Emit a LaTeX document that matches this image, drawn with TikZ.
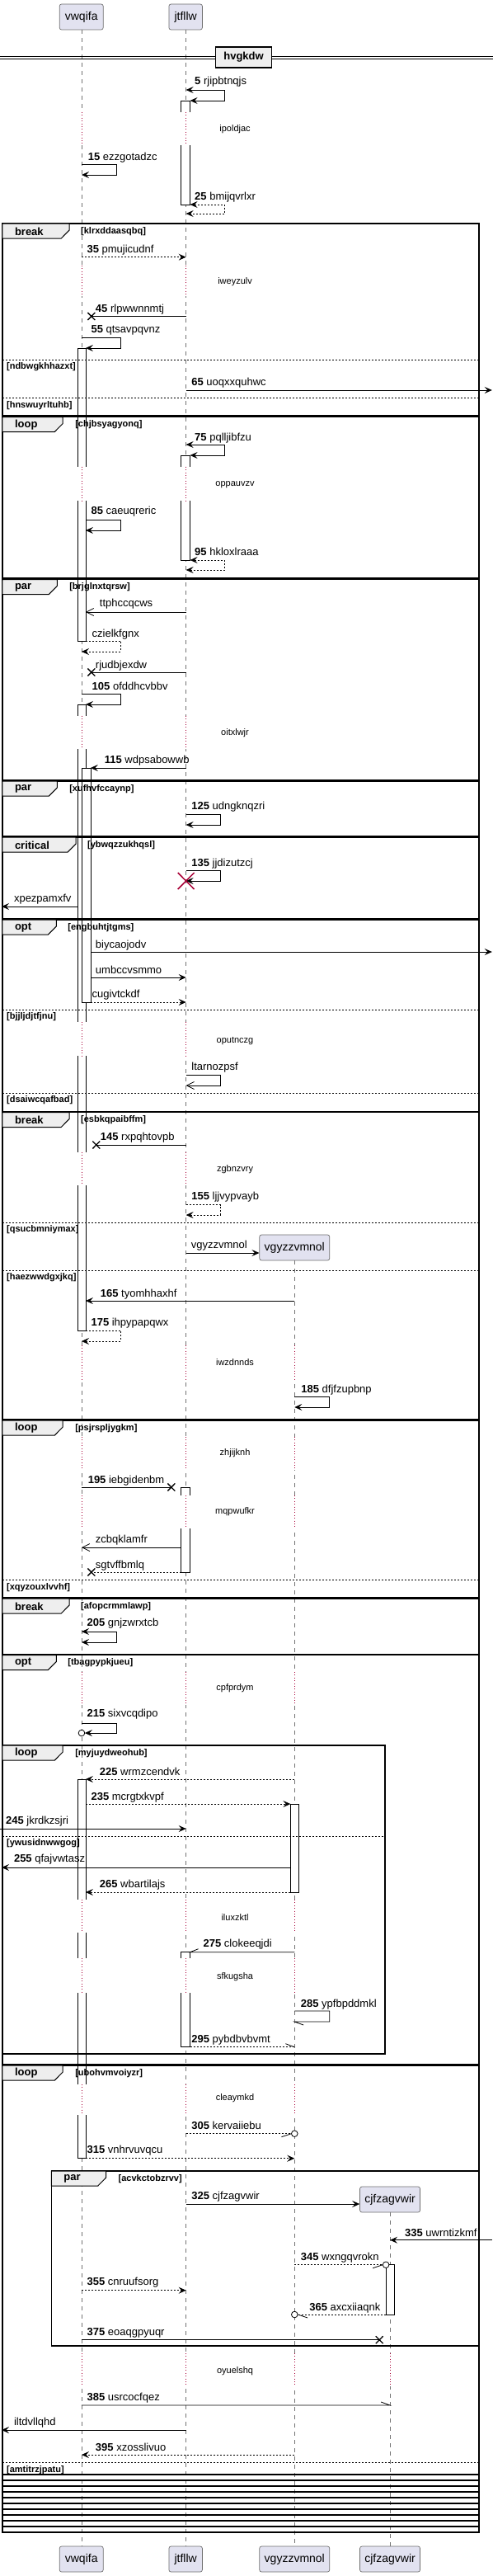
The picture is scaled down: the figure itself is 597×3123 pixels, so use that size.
\documentclass[tikz,border=0pt]{standalone}
\usepackage{fontspec}
\setmainfont{Liberation Sans}
\usetikzlibrary{arrows.meta}
\definecolor{pfill}{RGB}{226,226,240}
\definecolor{pborder}{RGB}{110,110,110}
\definecolor{dred}{RGB}{168,0,54}
\definecolor{tabfill}{RGB}{238,238,238}
\tikzset{
  part/.style={draw=pborder, fill=pfill, rounded corners=2.5pt, line width=0.7pt, minimum height=31pt, inner sep=0pt, font=\fontsize{14}{16}\selectfont},
  life/.style={draw=black!55, line width=0.6pt, dash pattern=on 5pt off 5pt},
  act/.style={draw=black, fill=white, line width=0.7pt},
  dline/.style={draw=dred, line width=0.8pt, dash pattern=on 0.8pt off 2.6pt},
  dtext/.style={font=\fontsize{11}{13}\selectfont, inner sep=0pt},
  frm/.style={draw=black, line width=1.5pt},
  tabs/.style={draw=black, fill=tabfill, line width=1pt},
  kw/.style={anchor=west, inner sep=0pt, font=\fontsize{13}{15}\selectfont\bfseries},
  cnd/.style={anchor=west, inner sep=0pt, font=\fontsize{11}{13}\selectfont\bfseries},
  divl/.style={draw=black, line width=0.8pt, dash pattern=on 2pt off 2pt},
  lbl/.style={anchor=west, inner sep=0pt, font=\fontsize{13}{15}\selectfont},
  m/.style={line width=0.8pt, ->},
  md/.style={m, dash pattern=on 2pt off 2pt},
  mb/.style={line width=0.8pt, <->},
  mdb/.style={mb, dash pattern=on 2pt off 2pt},
  mo/.style={line width=0.8pt, -{Straight Barb[length=9pt,width=9pt]}},
  mp/.style={line width=0.8pt},
  mdp/.style={mp, dash pattern=on 2pt off 2pt},
  circ/.style={draw=black, fill=white, line width=0.8pt},
  titlebox/.style={draw=black, fill=tabfill, line width=1.5pt, minimum width=68pt, minimum height=25pt, inner sep=0pt, font=\fontsize{13}{15}\selectfont\bfseries}
}
\newcommand\grp[8]{%
  \draw[frm] (#3,#1) rectangle (#4,#2);
  \draw[tabs] (#3,#1) -- (#5,#1) -- (#5,{#1+8}) -- ({#5-10},{#1+18}) -- (#3,{#1+18}) -- cycle;
  \node[kw] at ({#3+15},{#1+9.5}) {#6};
  \node[cnd] at (#7,{#1+9.5}) {#8};
}
\newcommand\dvd[4]{%
  \draw[divl] (#2,#1) -- (#3,#1);
  \node[cnd] at ({#2+5},{#1+9}) {#4};
}
\newcommand\dly[5]{%
  \foreach \lx in {#5} {
    \fill[white] ({\lx-8},#1) rectangle ({\lx+14},#2);
    \draw[dline] (\lx,#1) -- (\lx,#2);
  }
  \node[dtext] at (288,#3) {#4};
}
\newcommand\lostx[2]{%
  \draw[line width=1.3pt] ({#1-4.5},{#2-4.5}) -- ({#1+4.5},{#2+4.5}) ({#1-4.5},{#2+4.5}) -- ({#1+4.5},{#2-4.5});
}
\begin{document}
\begin{tikzpicture}[x=0.9897pt, y=-1pt, >={Stealth[length=9pt,width=8pt,inset=3.5pt]}]
\useasboundingbox (0pt,0pt) rectangle (597pt,-3123pt);

% lifelines
\draw[life] (100,36) -- (100,3087);
\draw[life] (228,36) -- (228,3087);
\draw[life] (361,1528) -- (361,3087);
\draw[life] (478,2682) -- (478,3087);

% participants
\node[part, minimum width=53pt] (pA) at (99.75,20.5) {vwqifa};
\node[part, minimum width=40.5pt] (pB) at (227.5,20.5) {jtfllw};
\node[part, minimum width=53pt] (pAb) at (99.75,3102.5) {vwqifa};
\node[part, minimum width=40.5pt] (pBb) at (227.5,3102.5) {jtfllw};
\node[part, minimum width=85pt] (pCb) at (361,3102.5) {vgyzzvmnol};
\node[part, minimum width=73pt] (pDb) at (478,3102.5) {cjfzagvwir};
\node[part, minimum width=85pt] (pC) at (361,1512.5) {vgyzzvmnol};
\node[part, minimum width=73pt] (pD) at (478,2666.5) {cjfzagvwir};

% activations
\draw[act] (222,122) rectangle (233,248);
\draw[act] (222,552) rectangle (233,679);
\draw[act] (222,1803) rectangle (233,1906);
\draw[act] (222,2366.7) rectangle (233,2481.7);
\draw[act] (95,422) rectangle (105,777);
\draw[act] (95,854) rectangle (105,1613);
\draw[act] (100,931) rectangle (111,1215);
\draw[act] (95,2157) rectangle (105,2616.7);
\draw[act] (356,2187) rectangle (366,2294);
\draw[act] (473,2745.7) rectangle (483,2806);

% delays
\dly{136}{176}{157}{ipoldjac}{100,228}
\dly{322}{359}{341.7}{iweyzulv}{100,228}
\dly{565.7}{607}{587.7}{oppauvzv}{100,228}
\dly{867.7}{908}{889}{oitxlwjr}{100,228}
\dly{1239}{1280}{1261.7}{oputnczg}{100,228}
\dly{1396.7}{1436.7}{1417.7}{zgbnzvry}{100,228}
\dly{1631}{1672}{1651.7}{iwzdnnds}{100,228,361}
\dly{1742}{1782}{1761.7}{zhjijknh}{100,228,361}
\dly{1813}{1853}{1833}{mqpwufkr}{100,228,361}
\dly{2027}{2067}{2046.7}{cpfprdym}{100,228,361}
\dly{2303}{2343}{2324.3}{iluxzktl}{100,228,361}
\dly{2374}{2416}{2396.7}{sfkugsha}{100,228,361}
\dly{2527}{2564}{2544}{cleaymkd}{100,228,361}
\dly{2853}{2893}{2875}{oyuelshq}{100,228,361,478}

% title separator
\draw[line width=1pt] (0,68.5) -- (604,68.5) (0,71.5) -- (604,71.5);
\node[titlebox] (title) at (298.6,69.5) {hvgkdw};

% frames
\grp{271}{504}{3}{587}{85}{break}{99}{[klrxddaasqbq]}
\dvd{436}{3}{587}{[ndbwgkhhazxt]}
\dvd{482.7}{3}{587}{[hnswuyrltuhb]}
\grp{505.5}{701}{3}{587}{77}{loop}{92}{[chjbsyagyonq]}
\grp{702.5}{945.7}{3}{587}{70}{par}{85}{[brjglnxtqrsw]}
\grp{947}{1014}{3}{587}{70}{par}{85}{[xufhvfccaynp]}
\grp{1015}{1114}{3}{587}{93}{critical}{107}{[ybwqzzukhqsl]}
\grp{1115}{1347.5}{3}{587}{69}{opt}{83}{[engbuhtjtgms]}
\dvd{1224}{3}{587}{[bjjljdjtfjnu]}
\dvd{1325}{3}{587}{[dsaiwcqafbad]}
\grp{1348.5}{1721}{3}{587}{85}{break}{99}{[esbkqpaibffm]}
\dvd{1482}{3}{587}{[qsucbmniymax]}
\dvd{1540}{3}{587}{[haezwwdgxjkq]}
\grp{1722}{1937}{3}{587}{77}{loop}{92}{[psjrspljygkm]}
\dvd{1915.7}{3}{587}{[xqyzouxlvvhf]}
\grp{1938}{2005.5}{3}{587}{85}{break}{99}{[afopcrmmlawp]}
\grp{2006.5}{2503}{3}{587}{69}{opt}{83}{[tbagpypkjueu]}
\grp{2116}{2490}{3}{472}{77}{loop}{92}{[myjuydweohub]}
\dvd{2226}{3}{472}{[ywusidnwwgog]}
\grp{2504}{3070}{3}{587}{77}{loop}{92}{[ubohvmvoiyzr]}
\dvd{2985.7}{3}{587}{[amtitrzjpatu]}
\grp{2632}{2844}{63}{587}{130}{par}{145}{[acvkctobzrvv]}
\foreach \yy in {3000,3007,...,3063} {\draw[frm] (3,\yy) -- (587,\yy);}

% messages
\draw[mb] (228,109) -- (275,109) -- (275,122) -- (233,122);
\node[lbl] at (238.5,99) {\textbf{5} rjipbtnqjs};
\draw[m] (100,199) -- (143,199) -- (143,212) -- (100,212);
\node[lbl] at (107.7,191) {\textbf{15} ezzgotadzc};
\draw[mdb] (233,248) -- (275,248) -- (275,259) -- (228,259);
\node[lbl] at (238.5,239) {\textbf{25} bmijqvrlxr};
\draw[md] (100,311.7) -- (228,311.7);
\node[lbl] at (106.5,302.7) {\textbf{35} pmujicudnf};
\draw[mp] (228,383.5) -- (112,383.5); \lostx{112}{383.5}
\node[lbl] at (117,375) {\textbf{45} rlpwwnnmtj};
\draw[m] (100,409.7) -- (148,409.7) -- (148,422) -- (105,422);
\node[lbl] at (111.5,400) {\textbf{55} qtsavpqvnz};
\draw[m] (228,473) -- (603,473);
\node[lbl] at (234.6,464) {\textbf{65} uoqxxquhwc};
\draw[mb] (228,539) -- (275,539) -- (275,552) -- (233,552);
\node[lbl] at (238.5,530.7) {\textbf{75} pqlljibfzu};
\draw[m] (105,630) -- (148,630) -- (148,643) -- (105,643);
\node[lbl] at (111.5,620) {\textbf{85} caeuqreric};
\draw[mdb] (233,679) -- (275,679) -- (275,691) -- (228,691);
\node[lbl] at (238.5,669) {\textbf{95} hkloxlraaa};
\draw[mo] (228,742) -- (105,742);
\node[lbl] at (122,732) {ttphccqcws};
\draw[md] (105,777) -- (148,777) -- (148,790) -- (100,790);
\node[lbl] at (112.7,768.7) {czielkfgnx};
\draw[mp] (228,815) -- (112,815); \lostx{112}{815}
\node[lbl] at (117,807) {rjudbjexdw};
\draw[m] (100,841) -- (148,841) -- (148,854) -- (105,854);
\node[lbl] at (112.7,831.7) {\textbf{105} ofddhcvbbv};
\draw[m] (228,931) -- (111,931);
\node[lbl] at (128,921.7) {\textbf{115} wdpsabowwb};
\draw[m] (228,987) -- (270,987) -- (270,1000) -- (228,1000);
\node[lbl] at (234.6,977.7) {\textbf{125} udngknqzri};
\draw[m] (228,1055) -- (270,1055) -- (270,1068) -- (228,1068);
\draw[dred, line width=1.5pt] (218,1058) -- (238,1078) (218,1078) -- (238,1058);
\node[lbl] at (234.6,1046.7) {\textbf{135} jjdizutzcj};
\draw[m] (95,1099) -- (2,1099);
\node[lbl] at (17,1090) {xpezpamxfv};
\draw[m] (111,1154) -- (603,1154);
\node[lbl] at (117,1146) {biycaojodv};
\draw[m] (111,1185) -- (228,1185);
\node[lbl] at (117,1176) {umbccvsmmo};
\draw[md] (111,1215) -- (228,1215);
\node[lbl] at (112.7,1206) {cugivtckdf};
\draw[mo] (228,1303) -- (270,1303) -- (270,1316) -- (228,1316);
\node[lbl] at (234.6,1294) {ltarnozpsf};
\draw[mp] (228,1388) -- (118,1388); \lostx{118}{1388}
\node[lbl] at (123,1379) {\textbf{145} rxpqhtovpb};
\draw[md] (228,1460.7) -- (270,1460.7) -- (270,1473) -- (228,1473);
\node[lbl] at (234.6,1451) {\textbf{155} ljjvypvayb};
\draw[m] (228,1519) -- (pC.west |- 0,1519);
\node[lbl] at (234,1510) {vgyzzvmnol};
\draw[m] (361,1577) -- (105,1577);
\node[lbl] at (123,1569) {\textbf{165} tyomhhaxhf};
\draw[md] (105,1613) -- (148,1613) -- (148,1626) -- (100,1626);
\node[lbl] at (111.5,1604) {\textbf{175} ihpypapqwx};
\draw[m] (361,1693) -- (404,1693) -- (404,1706) -- (361,1706);
\node[lbl] at (369,1685) {\textbf{185} dfjfzupbnp};
\draw[mp] (100,1803) -- (210,1803); \lostx{210}{1803}
\node[lbl] at (107.7,1795) {\textbf{195} iebgidenbm};
\draw[mo] (222,1876) -- (100,1876);
\node[lbl] at (117,1866.7) {zcbqklamfr};
\draw[mdp] (222,1906) -- (112,1906); \lostx{112}{1906}
\node[lbl] at (117,1897.7) {sgtvffbmlq};
\draw[mb] (100,1978) -- (143,1978) -- (143,1991) -- (100,1991);
\node[lbl] at (106.5,1968) {\textbf{205} gnjzwrxtcb};
\draw[m] (100,2089) -- (143,2089) -- (143,2101) -- (104,2101);
\draw[circ] (100,2101) circle (3.8pt);
\node[lbl] at (106.5,2078) {\textbf{215} sixvcqdipo};
\draw[md] (361,2157) -- (105,2157);
\node[lbl] at (122,2147.7) {\textbf{225} wrmzcendvk};
\draw[md] (105,2187) -- (356,2187);
\node[lbl] at (111.5,2179) {\textbf{235} mcrgtxkvpf};
\draw[m] (0,2217) -- (228,2217);
\node[lbl] at (7,2208) {\textbf{245} jkrdkzsjri};
\draw[m] (356,2264) -- (2,2264);
\node[lbl] at (17,2254) {\textbf{255} qfajvwtasz};
\draw[md] (356,2294) -- (105,2294);
\node[lbl] at (122,2285) {\textbf{265} wbartilajs};
\draw[mp] (361,2366.7) -- (233,2366.7) -- (243,2362.7);
\node[lbl] at (249,2357) {\textbf{275} clokeeqjdi};
\draw[mp] (361,2438) -- (404,2438) -- (404,2451) -- (361,2451) -- (372,2455);
\node[lbl] at (368.5,2430) {\textbf{285} ypfbpddmkl};
\draw[mdp] (233,2481.7) -- (361,2481.7);
\draw[mp] (361,2481.7) -- (350,2477.7);
\node[lbl] at (234.6,2472.7) {\textbf{295} pybdbvbvmt};
\draw[mdp] (228,2586.7) -- (357,2586.7);
\draw[mp] (357,2586.7) -- (345,2590.7);
\draw[circ] (361,2586.7) circle (3.8pt);
\node[lbl] at (234.6,2577) {\textbf{305} kervaiiebu};
\draw[md] (105,2616.7) -- (361,2616.7);
\node[lbl] at (106.5,2607) {\textbf{315} vnhrvuvqcu};
\draw[m] (228,2672) -- (pD.west |- 0,2672);
\node[lbl] at (234.6,2663) {\textbf{325} cjfzagvwir};
\draw[m] (603,2715.7) -- (478,2715.7);
\node[lbl] at (496,2706.7) {\textbf{335} uwrntizkmf};
\draw[mdp] (361,2745.7) -- (469,2745.7);
\draw[mp] (469,2745.7) -- (457,2749.7);
\draw[circ] (473,2745.7) circle (3.8pt);
\node[lbl] at (368.5,2736.7) {\textbf{345} wxngqvrokn};
\draw[md] (100,2776.7) -- (228,2776.7);
\node[lbl] at (106.5,2766.7) {\textbf{355} cnruufsorg};
\draw[mdp] (473,2806) -- (365,2806);
\draw[mp] (365,2806) -- (377,2810);
\draw[circ] (361,2806) circle (3.8pt);
\node[lbl] at (379,2797.7) {\textbf{365} axcxiiaqnk};
\draw[mp] (100,2836.7) -- (465,2836.7); \lostx{465}{2836.7}
\node[lbl] at (106.5,2828) {\textbf{375} eoaqgpyuqr};
\draw[mp] (100,2916) -- (478,2916) -- (467,2912);
\node[lbl] at (106.5,2906.7) {\textbf{385} usrcocfqez};
\draw[m] (228,2946) -- (2,2946);
\node[lbl] at (17,2937) {iltdvllqhd};
\draw[md] (361,2976) -- (100,2976);
\node[lbl] at (117,2967) {\textbf{395} xzosslivuo};
\end{tikzpicture}
\end{document}
